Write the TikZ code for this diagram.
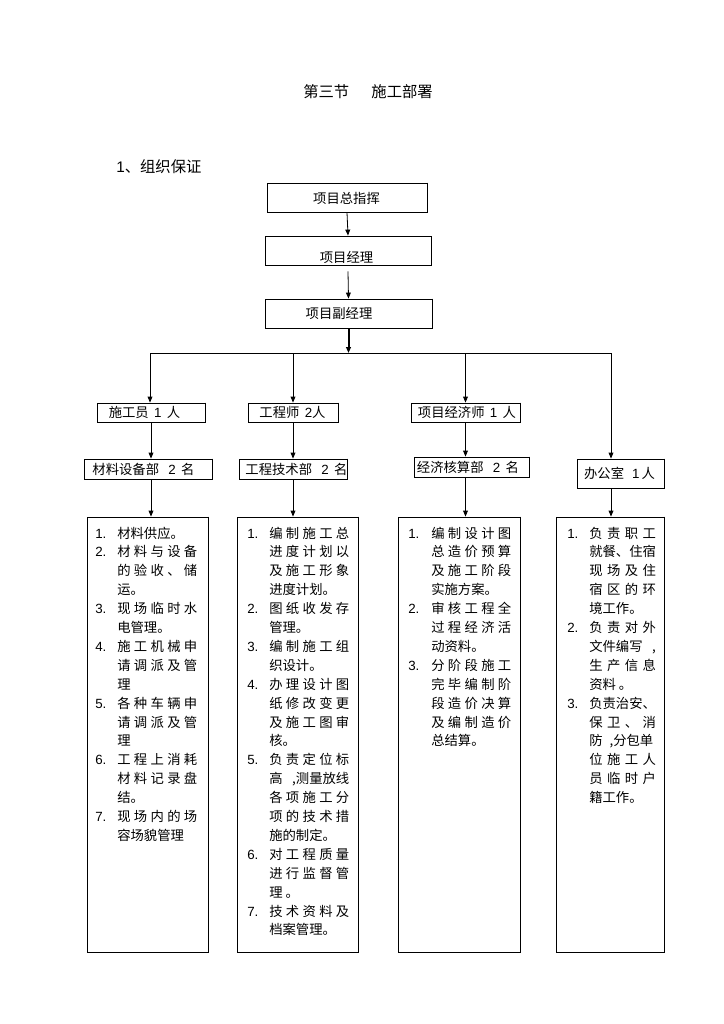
\documentclass[tikz,border=0pt]{standalone}
\usepackage{fontspec}
\setmainfont{Noto Sans CJK SC}
\newfontfamily\ar{Liberation Sans}
\usetikzlibrary{arrows.meta,fit,calc}
\newcommand\J[2][60pt]{\makebox[#1][s]{\spaceskip=0pt plus 1fil\relax #2}}
\newcommand\gp{\hspace{0.4em}}
\tikzset{
  boxn/.style={draw=black, line width=0.6pt, inner sep=0pt},
  shadowln/.style={line width=1.2pt},
  lbl/.style={inner sep=0pt, font=\fontsize{10pt}{12pt}\selectfont},
  ln/.style={inner sep=0pt, anchor=base west, font=\fontsize{10pt}{12pt}\selectfont},
  head/.style={inner sep=0pt, anchor=base west, font=\fontsize{11.5pt}{14pt}\selectfont},
  arr/.style={-{Triangle[length=4.5pt,width=3.6pt]}, line width=0.6pt}
}
\begin{document}
\begin{tikzpicture}[x=0.75pt,y=-0.75pt]
\useasboundingbox[fill=white] (0,0) rectangle (724,1024);
% headings
\node[head] (title) at (303,97.5) {第三节\hspace{1.45em}施工部署};
\node[head] (sec) at (116,172.5) {{\ar 1}、组织保证};
% top boxes
\node[boxn, fit={(267,183) (427,212)}] (b1) {};
\node[boxn, fit={(265,236) (431,265)}] (b2) {};
\node[boxn, fit={(265,299) (432,328)}] (b3) {};
\node[lbl] (t1) at (346.5,198) {项目总指挥};
\node[lbl] (t2) at (346.5,257) {项目经理};
\node[lbl] (t3) at (339,313) {项目副经理};
% second row
\node[boxn, fit={(97,403) (205,422)}] (r2a) {};
\node[boxn, fit={(248,403) (338,422)}] (r2b) {};
\node[boxn, fit={(411,403) (520,422)}] (r2c) {};
\node[lbl] (s2a) at (144.5,412.5) {施工员\gp{\ar 1}\gp 人};
\node[lbl] (s2b) at (292.5,412.5) {工程师\gp{\ar 2}人};
\node[lbl] (s2c) at (467,412.5) {项目经济师\gp{\ar 1}\gp 人};
% third row
\node[boxn, fit={(84,459) (212,479)}] (r3a) {};
\node[boxn, fit={(239,459) (347,479)}] (r3b) {};
\node[boxn, fit={(414,457) (529,477)}] (r3c) {};
\node[boxn, fit={(577,459) (664,488)}] (off) {};
\node[lbl] (s3a) at (143.5,469) {材料设备部\hspace{0.7em}{\ar 2}\gp 名};
\node[lbl] (s3b) at (296.5,469) {工程技术部\hspace{0.7em}{\ar 2}\gp 名};
\node[lbl] (s3c) at (468,467.5) {经济核算部\hspace{0.7em}{\ar 2}\gp 名};
\node[lbl] (s3d) at (619.5,473) {办公室\hspace{0.6em}{\ar 1}\hspace{0.15em}人};
% column boxes
\node[boxn, fit={(87,517) (208,952)}] (c1) {};
\node[boxn, fit={(237,517) (358,952)}] (c2) {};
\node[boxn, fit={(398,517) (520,952)}] (c3) {};
\node[boxn, fit={(556,517) (664,952)}] (c4) {};
% shadow edges
\foreach \b in {b1,b3,r2a,r2b,r2c,r3a,r3b,r3c,off,c1,c2,c3,c4}
  \draw[shadowln] (\b.north east) -- (\b.south east) -- (\b.south west);
% connectors
\coordinate (hL) at (150,353);
\coordinate (hR) at (611,353);
\draw[line width=0.6pt] (hL) -- (hR);
\draw[arr] (b1.south) -- (b2.north);
\draw[arr] ([yshift=-4.5pt]b2.south) -- (b3.north);
\draw[arr, line width=1.5pt] (b3.south) -- (b3.south |- hL);
\draw[arr] (hL) -- (hL |- r2a.north);
\draw[arr] (r2b.north |- hL) -- (r2b.north);
\draw[arr] (r2c.north |- hL) -- (r2c.north);
\draw[arr] (hR) -- (hR |- off.north);
\draw[arr] (r2a.south) -- (r2a.south |- r3a.north);
\draw[arr] (r2b.south) -- (r2b.south |- r3b.north);
\draw[arr] (r2c.south) -- (r2c.south |- r3c.north);
\draw[arr] (r2a.south |- r3a.south) -- (r2a.south |- c1.north);
\draw[arr] (r2b.south |- r3b.south) -- (r2b.south |- c2.north);
\draw[arr] (r2c.south |- r3c.south) -- (r2c.south |- c3.north);
\draw[arr] (hR |- off.south) -- (hR |- c4.north);
% column 1 text
\foreach \n/\t [count=\i from 0] in {1./材料供应。,2./\J{材 料 与 设 备},/\J{的 验 收 、 储},/运。,3./\J{现 场 临 时 水},/电管理。,4./\J{施 工 机 械 申},/\J{请 调 派 及 管},/理,5./\J{各 种 车 辆 申},/\J{请 调 派 及 管},/理,6./\J{工 程 上 消 耗},/\J{材 料 记 录 盘},/结。,7./\J{现 场 内 的 场},/容场貌管理}{
  \node[ln] (c1n\i) at (95,{538+18.9*\i}) {\ar\n};
  \node[ln] (c1t\i) at (117,{538+18.9*\i}) {\t};
}
% column 2 text
\foreach \n/\t [count=\i from 0] in {1./\J{编 制 施 工 总},/\J{进 度 计 划 以},/\J{及 施 工 形 象},/进度计划。,2./\J{图 纸 收 发 存},/管理。,3./\J{编 制 施 工 组},/织设计。,4./\J{办 理 设 计 图},/\J{纸 修 改 变 更},/\J{及 施 工 图 审},/核。,5./\J{负 责 定 位 标},/\J{高 ,测量放线},/\J{各 项 施 工 分},/\J{项 的 技 术 措},/施的制定。,6./\J{对 工 程 质 量},/\J{进 行 监 督 管},/理 。,7./\J{技 术 资 料 及},/档案管理。}{
  \node[ln] (c2n\i) at (247,{538+18.9*\i}) {\ar\n};
  \node[ln] (c2t\i) at (269,{538+18.9*\i}) {\t};
}
% column 3 text
\foreach \n/\t [count=\i from 0] in {1./\J{编 制 设 计 图},/\J{总 造 价 预 算},/\J{及 施 工 阶 段},/实施方案。,2./\J{审 核 工 程 全},/\J{过 程 经 济 活},/动资料。,3./\J{分 阶 段 施 工},/\J{完 毕 编 制 阶},/\J{段 造 价 决 算},/\J{及 编 制 造 价},/总结算。}{
  \node[ln] (c3n\i) at (408,{538+18.9*\i}) {\ar\n};
  \node[ln] (c3t\i) at (431,{538+18.9*\i}) {\t};
}
% column 4 text
\foreach \n/\t [count=\i from 0] in {1./\J[50pt]{负 责 职 工},/就餐、住宿,/\J[50pt]{现 场 及 住},/\J[50pt]{宿 区 的 环},/境工作。,2./\J[50pt]{负 责 对 外},/\J[50pt]{文件编写 ,},/\J[50pt]{生 产 信 息},/资料 。,3./负责治安、,/\J[50pt]{保 卫 、 消},/\J[48pt]{防 ,分包单},/\J[50pt]{位 施 工 人},/\J[50pt]{员 临 时 户},/籍工作。}{
  \node[ln] (c4n\i) at (567,{538+18.9*\i}) {\ar\n};
  \node[ln] (c4t\i) at (589,{538+18.9*\i}) {\t};
}
\end{tikzpicture}
\end{document}
